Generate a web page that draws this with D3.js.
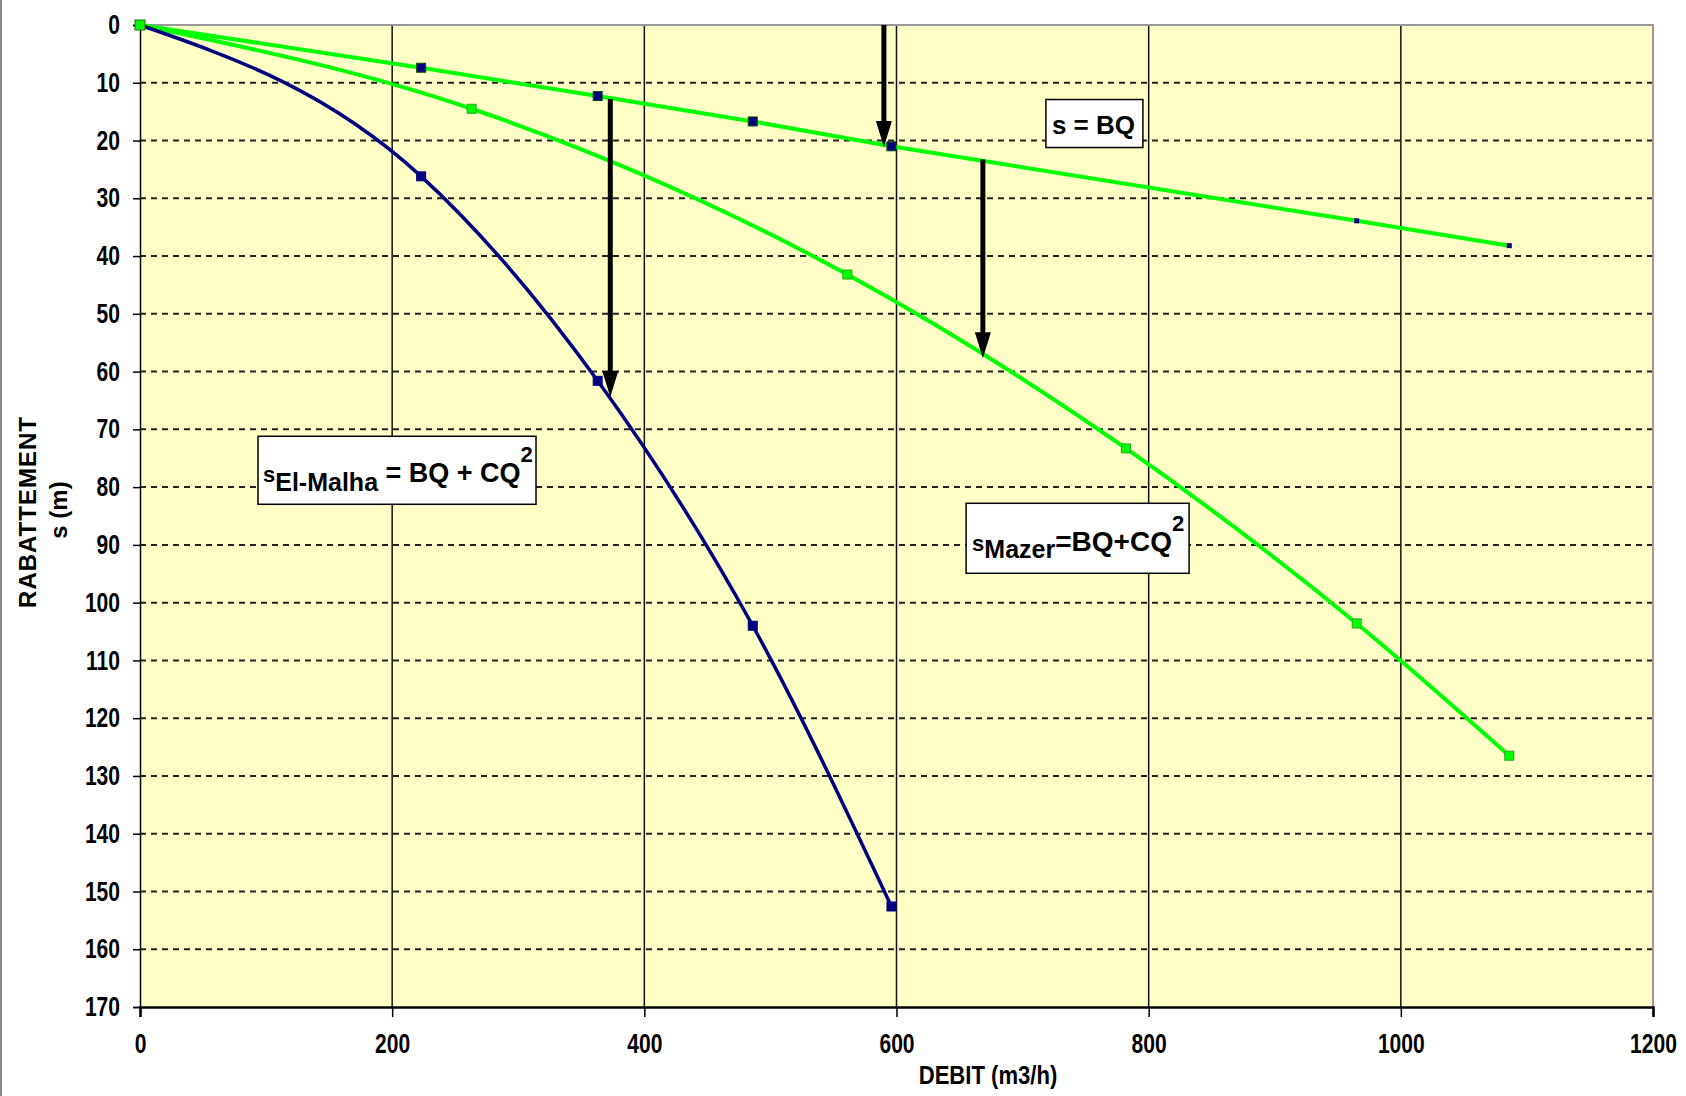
<!DOCTYPE html>
<html>
<head>
<meta charset="utf-8">
<script src="https://d3js.org/d3.v7.min.js"></script>
<style>
  body { margin: 0; background: #fff; }
  svg { display: block; }
</style>
</head>
<body>
<svg id="chart"></svg>
<script>
// débit (m3/h) et rabattement (m)
const debitElMalha = [0, 223, 363, 486, 596];
const sElMalha = [0, 26.2, 61.6, 104.0, 152.6];

const debitMazer = [0, 263, 561, 782, 965, 1086];
const sMazer = [0, 14.5, 43.2, 73.3, 103.6, 126.5];

const debitBQ = [0, 223, 363, 486, 596, 965, 1086];
const sBQ = [0, 7.4, 12.3, 16.7, 21.0, 33.9, 38.2];

const xTicks = [0, 200, 400, 600, 800, 1000, 1200];
const yTicks = d3.range(0, 171, 10);

// flèches verticales (débit, rabattement début, rabattement fin)
const arrowQ = [590, 373, 668.5];
const arrowFrom = [0, 12.8, 23.3];
const arrowTo = [21.1, 64.4, 57.7];

// settings
const config = {
  width: 1686,
  height: 1096,
  plot: { left: 140, right: 1653, top: 25, bottom: 1007 },
  green: '#00ff00',
  navy: '#000080',
  bg: '#ffffc6',
  font: "'Liberation Sans', Arial, sans-serif",
  squeeze: 0.78, // Arial Narrow look
};

const svg = d3.select('#chart')
  .attr('width', config.width)
  .attr('height', config.height);

const p = config.plot;

const x = d3.scaleLinear().domain([0, 1200]).range([p.left, p.right]);
const y = d3.scaleLinear().domain([0, 170]).range([p.top, p.bottom]);

// outer frame (left edge only is visible)
svg.append('line')
  .attr('x1', 1).attr('x2', 1).attr('y1', 0).attr('y2', config.height)
  .attr('stroke', '#888').attr('stroke-width', 2);

// plot background
svg.append('rect')
  .attr('x', p.left).attr('y', p.top)
  .attr('width', p.right - p.left).attr('height', p.bottom - p.top)
  .attr('fill', config.bg);

// horizontal dashed grid
svg.append('g').selectAll('line')
  .data(yTicks.filter(d => d > 0 && d < 170))
  .join('line')
  .attr('x1', p.left).attr('x2', p.right)
  .attr('y1', d => y(d)).attr('y2', d => y(d))
  .attr('stroke', '#222').attr('stroke-width', 2)
  .attr('stroke-dasharray', '6,5');

// vertical solid grid
svg.append('g').selectAll('line')
  .data(xTicks.filter(d => d > 0 && d < 1200))
  .join('line')
  .attr('x1', d => x(d)).attr('x2', d => x(d))
  .attr('y1', p.top).attr('y2', p.bottom)
  .attr('stroke', '#111').attr('stroke-width', 1.5);

// plot border top / right
svg.append('path')
  .attr('d', `M${p.left},${p.top}H${p.right}V${p.bottom}`)
  .attr('fill', 'none').attr('stroke', '#999').attr('stroke-width', 2);

// axes
const yAxis = d3.axisLeft(y).tickValues(yTicks).tickSize(7).tickPadding(13)
  .tickFormat(d3.format('d'));
const xAxis = d3.axisBottom(x).tickValues(xTicks).tickSize(10).tickPadding(17)
  .tickFormat(d3.format('d'));

const gy = svg.append('g')
  .attr('transform', `translate(${p.left},0)`)
  .call(yAxis);
const gx = svg.append('g')
  .attr('transform', `translate(0,${p.bottom})`)
  .call(xAxis);

gy.select('.domain').attr('stroke', '#000').attr('stroke-width', 1.5);
gx.select('.domain').attr('stroke', '#000').attr('stroke-width', 2.5);
[gy, gx].forEach(g => {
  g.selectAll('.tick line').attr('stroke', '#000').attr('stroke-width', 1.5);
  g.selectAll('.tick text')
    .attr('fill', '#000')
    .style('font-family', config.font)
    .style('font-weight', 'bold')
    .style('font-size', '27px');
});
// squeeze tick labels horizontally (narrow font is not installed)
gy.selectAll('.tick text')
  .attr('x', -20 / config.squeeze)
  .attr('transform', `scale(${config.squeeze},1)`);
gx.selectAll('.tick text')
  .attr('transform', `scale(${config.squeeze},1)`);

// axis titles
svg.append('text')
  .attr('transform', 'translate(988,1084) scale(0.85,1)')
  .attr('text-anchor', 'middle')
  .style('font-family', config.font)
  .style('font-weight', 'bold')
  .style('font-size', '26px')
  .text('DEBIT (m3/h)');

svg.append('text')
  .attr('transform', 'translate(36,512) rotate(-90)')
  .attr('text-anchor', 'middle')
  .style('font-family', config.font)
  .style('font-weight', 'bold')
  .style('font-size', '24px')
  .style('letter-spacing', '1px')
  .text('RABATTEMENT');

svg.append('text')
  .attr('transform', 'translate(67,510) rotate(-90)')
  .attr('text-anchor', 'middle')
  .style('font-family', config.font)
  .style('font-weight', 'bold')
  .style('font-size', '24px')
  .text('s (m)');

// series
const line = d3.line()
  .x(d => x(d[0]))
  .y(d => y(d[1]));

const smooth = d3.line()
  .x(d => x(d[0]))
  .y(d => y(d[1]))
  .curve(d3.curveMonotoneX);

const bqData = d3.zip(debitBQ, sBQ);
const mazerData = d3.zip(debitMazer, sMazer);
const malhaData = d3.zip(debitElMalha, sElMalha);

svg.append('path')
  .attr('d', line(bqData))
  .attr('fill', 'none').attr('stroke', config.green).attr('stroke-width', 4);

svg.append('path')
  .attr('d', smooth(mazerData))
  .attr('fill', 'none').attr('stroke', config.green).attr('stroke-width', 4);

svg.append('path')
  .attr('d', smooth(malhaData))
  .attr('fill', 'none').attr('stroke', config.navy).attr('stroke-width', 3.5);

// markers
function squares(data, size, fill, stroke) {
  svg.append('g').selectAll('rect')
    .data(data)
    .join('rect')
    .attr('x', d => x(d[0]) - size / 2)
    .attr('y', d => y(d[1]) - size / 2)
    .attr('width', size).attr('height', size)
    .attr('fill', fill)
    .attr('stroke', stroke)
    .attr('stroke-width', 1);
}

squares(bqData.slice(1, 5), 9, config.navy, '#0a4a0a');
squares(bqData.slice(5), 5, config.navy, 'none');
squares(mazerData, 9, config.green, '#22aa22');
squares(malhaData.slice(1), 9, config.navy, config.navy);
squares([[0, 0]], 10, config.green, '#226622');

// arrows
const arrows = arrowQ.map((q, i) => ({ q, from: arrowFrom[i], to: arrowTo[i] }));
const headLen = 26;
const headHalf = 8;
const ga = svg.append('g').selectAll('g').data(arrows).join('g');
ga.append('line')
  .attr('x1', d => x(d.q)).attr('x2', d => x(d.q))
  .attr('y1', d => y(d.from)).attr('y2', d => y(d.to) - headLen + 2)
  .attr('stroke', '#000').attr('stroke-width', 5);
ga.append('path')
  .attr('d', d => {
    const cx = x(d.q), ty = y(d.to);
    return `M${cx - headHalf},${ty - headLen}L${cx + headHalf},${ty - headLen}L${cx},${ty}Z`;
  })
  .attr('fill', '#000');

// equation boxes
function box(q, s, w, h) {
  svg.append('rect')
    .attr('x', x(q)).attr('y', y(s))
    .attr('width', w).attr('height', h)
    .attr('fill', '#fff').attr('stroke', '#000').attr('stroke-width', 1.5);
  return { left: x(q), top: y(s) };
}

const b1 = box(718.5, 12.9, 97, 48);
svg.append('text')
  .attr('x', b1.left + 6).attr('y', b1.top + 34)
  .style('font-family', config.font)
  .style('font-weight', 'bold')
  .style('font-size', '26px')
  .text('s = BQ');

const b2 = box(93.6, 71.2, 278, 68);
const t2 = svg.append('text')
  .attr('x', b2.left + 5).attr('y', b2.top + 46)
  .style('font-family', config.font)
  .style('font-weight', 'bold');
t2.append('tspan').style('font-size', '22px').text('s');
t2.append('tspan').attr('dy', 9).style('font-size', '25px').text('El-Malha');
t2.append('tspan').attr('dy', -9).style('font-size', '27px').text(' = BQ + CQ');
t2.append('tspan').attr('dy', -20).style('font-size', '22px').text('2');

const b3 = box(655.2, 82.8, 223, 70);
const t3 = svg.append('text')
  .attr('x', b3.left + 6).attr('y', b3.top + 48)
  .style('font-family', config.font)
  .style('font-weight', 'bold');
t3.append('tspan').style('font-size', '22px').text('s');
t3.append('tspan').attr('dy', 7).style('font-size', '25px').text('Mazer');
t3.append('tspan').attr('dy', -7).style('font-size', '28px').text('=BQ+CQ');
t3.append('tspan').attr('dy', -20).style('font-size', '22px').text('2');
</script>
</body>
</html>
